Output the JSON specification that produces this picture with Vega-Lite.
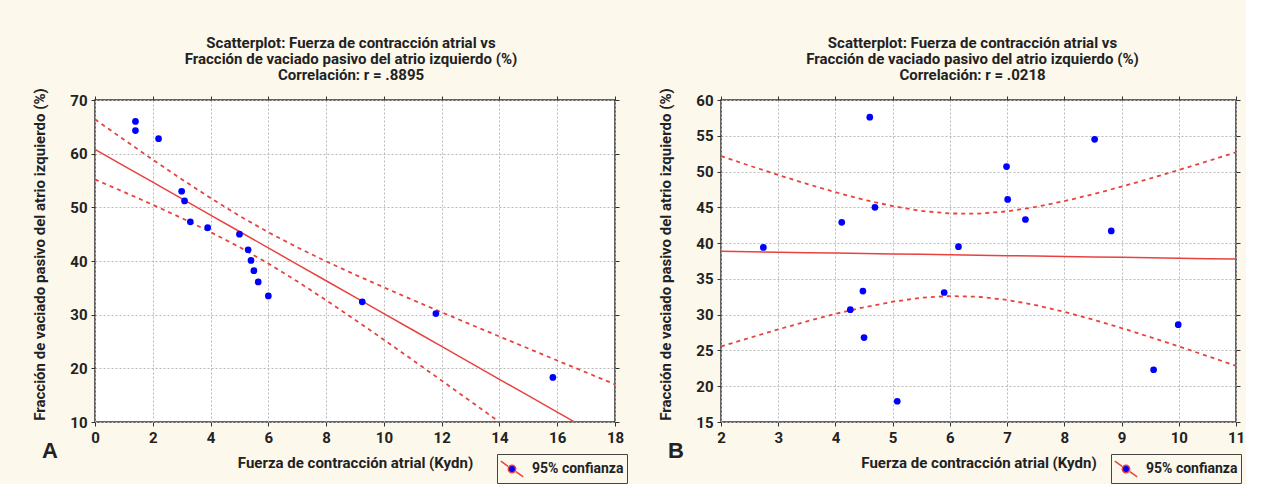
{
  "$schema": "https://vega.github.io/schema/vega-lite/v6.json",
  "background": "#fcf8ec",
  "padding": {"left": 32, "top": 34, "right": 0, "bottom": 0},
  "spacing": 30,
  "resolve": {"scale": {"color": "independent"}, "legend": {"color": "independent"}},
  "datasets": {
    "ptsA": [
      {"fuerza": 1.4, "fraccion": 66.0},
      {"fuerza": 1.4, "fraccion": 64.3},
      {"fuerza": 2.2, "fraccion": 62.8},
      {"fuerza": 3.0, "fraccion": 53.0},
      {"fuerza": 3.1, "fraccion": 51.2},
      {"fuerza": 3.3, "fraccion": 47.3},
      {"fuerza": 3.9, "fraccion": 46.2},
      {"fuerza": 5.0, "fraccion": 45.0},
      {"fuerza": 5.3, "fraccion": 42.1},
      {"fuerza": 5.4, "fraccion": 40.1},
      {"fuerza": 5.5, "fraccion": 38.2},
      {"fuerza": 5.65, "fraccion": 36.1},
      {"fuerza": 6.0, "fraccion": 33.5},
      {"fuerza": 9.25, "fraccion": 32.4},
      {"fuerza": 11.8, "fraccion": 30.2},
      {"fuerza": 15.85, "fraccion": 18.3}
    ],
    "fitA": [
      {"fuerza": 0, "ajuste": 60.8, "inf": 55.2, "sup": 66.4},
      {"fuerza": 1, "ajuste": 57.74, "inf": 52.86, "sup": 62.62},
      {"fuerza": 2, "ajuste": 54.68, "inf": 50.48, "sup": 58.88},
      {"fuerza": 3, "ajuste": 51.62, "inf": 48.0, "sup": 55.24},
      {"fuerza": 4, "ajuste": 48.56, "inf": 45.39, "sup": 51.73},
      {"fuerza": 5, "ajuste": 45.5, "inf": 42.59, "sup": 48.41},
      {"fuerza": 6, "ajuste": 42.44, "inf": 39.53, "sup": 45.35},
      {"fuerza": 7, "ajuste": 39.38, "inf": 36.21, "sup": 42.55},
      {"fuerza": 8, "ajuste": 36.32, "inf": 32.7, "sup": 39.94},
      {"fuerza": 9, "ajuste": 33.26, "inf": 29.06, "sup": 37.46},
      {"fuerza": 10, "ajuste": 30.2, "inf": 25.32, "sup": 35.08},
      {"fuerza": 11, "ajuste": 27.14, "inf": 21.54, "sup": 32.74},
      {"fuerza": 12, "ajuste": 24.08, "inf": 17.71, "sup": 30.45},
      {"fuerza": 13, "ajuste": 21.02, "inf": 13.86, "sup": 28.18},
      {"fuerza": 14, "ajuste": 17.96, "inf": 9.99, "sup": 25.93},
      {"fuerza": 15, "ajuste": 14.9, "inf": 6.11, "sup": 23.69},
      {"fuerza": 16, "ajuste": 11.84, "inf": 2.22, "sup": 21.46},
      {"fuerza": 17, "ajuste": 8.78, "inf": -1.68, "sup": 19.24},
      {"fuerza": 18, "ajuste": 5.72, "inf": -5.58, "sup": 17.02}
    ],
    "ptsB": [
      {"fuerza": 2.74, "fraccion": 39.4},
      {"fuerza": 4.11, "fraccion": 42.9},
      {"fuerza": 4.6, "fraccion": 57.6},
      {"fuerza": 4.69, "fraccion": 45.0},
      {"fuerza": 4.26, "fraccion": 30.7},
      {"fuerza": 4.48, "fraccion": 33.3},
      {"fuerza": 4.5, "fraccion": 26.8},
      {"fuerza": 5.08, "fraccion": 17.9},
      {"fuerza": 5.9, "fraccion": 33.1},
      {"fuerza": 6.15, "fraccion": 39.5},
      {"fuerza": 6.99, "fraccion": 50.7},
      {"fuerza": 7.01, "fraccion": 46.1},
      {"fuerza": 7.32, "fraccion": 43.3},
      {"fuerza": 8.53, "fraccion": 54.5},
      {"fuerza": 8.82, "fraccion": 41.7},
      {"fuerza": 9.56, "fraccion": 22.3},
      {"fuerza": 9.99, "fraccion": 28.6}
    ],
    "fitB": [
      {"fuerza": 2, "ajuste": 38.85, "inf": 25.55, "sup": 52.15},
      {"fuerza": 2.5, "ajuste": 38.79, "inf": 26.76, "sup": 50.82},
      {"fuerza": 3, "ajuste": 38.73, "inf": 27.94, "sup": 49.52},
      {"fuerza": 3.5, "ajuste": 38.67, "inf": 29.06, "sup": 48.28},
      {"fuerza": 4, "ajuste": 38.61, "inf": 30.11, "sup": 47.11},
      {"fuerza": 4.5, "ajuste": 38.55, "inf": 31.04, "sup": 46.06},
      {"fuerza": 5, "ajuste": 38.49, "inf": 31.81, "sup": 45.17},
      {"fuerza": 5.5, "ajuste": 38.43, "inf": 32.36, "sup": 44.5},
      {"fuerza": 6, "ajuste": 38.37, "inf": 32.6, "sup": 44.14},
      {"fuerza": 6.5, "ajuste": 38.31, "inf": 32.5, "sup": 44.12},
      {"fuerza": 7, "ajuste": 38.25, "inf": 32.06, "sup": 44.44},
      {"fuerza": 7.5, "ajuste": 38.19, "inf": 31.33, "sup": 45.05},
      {"fuerza": 8, "ajuste": 38.13, "inf": 30.39, "sup": 45.87},
      {"fuerza": 8.5, "ajuste": 38.07, "inf": 29.31, "sup": 46.83},
      {"fuerza": 9, "ajuste": 38.01, "inf": 28.13, "sup": 47.89},
      {"fuerza": 9.5, "ajuste": 37.95, "inf": 26.87, "sup": 49.03},
      {"fuerza": 10, "ajuste": 37.89, "inf": 25.56, "sup": 50.22},
      {"fuerza": 10.5, "ajuste": 37.83, "inf": 24.22, "sup": 51.44},
      {"fuerza": 11, "ajuste": 37.77, "inf": 22.85, "sup": 52.69}
    ]
  },
  "config": {
    "font": "Roboto",
    "view": {"stroke": "#333", "strokeWidth": 1.5, "fill": "white"},
    "axis": {
      "labelFont": "Roboto",
      "labelFontSize": 15,
      "labelFontWeight": "bold",
      "labelColor": "#222",
      "labelFlush": false,
      "labelOverlap": false,
      "titleFont": "Roboto",
      "titleFontSize": 15,
      "titleFontWeight": "bold",
      "titleColor": "#222",
      "domain": false,
      "tickColor": "#333",
      "tickSize": 4,
      "tickWidth": 1,
      "labelPadding": 4,
      "gridColor": "#b8b8b8",
      "gridDash": [2, 2],
      "gridWidth": 1
    },
    "legend": {
      "orient": "none",
      "title": null,
      "labelFont": "Roboto",
      "labelFontSize": 14,
      "labelFontWeight": "bold",
      "labelColor": "#222",
      "strokeColor": "#444",
      "fillColor": "#fcf8ec",
      "padding": 3,
      "symbolType": "M-1,-0.7L-0.35,-0.245M0.35,0.245L1,0.7M0.33,0A0.33,0.33,0,1,1,-0.33,0A0.33,0.33,0,1,1,0.33,0Z",
      "symbolSize": 500,
      "symbolStrokeColor": "#e8423f",
      "symbolStrokeWidth": 1.5,
      "symbolFillColor": "#0000ff",
      "labelOffset": 8
    },
    "title": {
      "font": "Roboto",
      "fontSize": 15,
      "fontWeight": "bold",
      "color": "#222"
    }
  },
  "hconcat": [
    {
      "title": {"text": "A", "orient": "bottom", "anchor": "start", "fontSize": 22, "font": "Liberation Sans", "offset": -43, "dx": 10},
      "vconcat": [
        {
          "width": 520,
          "height": 322,
          "title": {
            "text": ["Scatterplot: Fuerza de contracción atrial vs", "Fracción de vaciado pasivo del atrio izquierdo (%)", "Correlación: r = .8895"],
            "lineHeight": 16,
            "anchor": "middle",
            "frame": "group",
            "offset": 5,
            "dx": -4
          },
          "resolve": {"axis": {"x": "independent", "y": "independent"}},
          "layer": [
            {
              "data": {"name": "fitA"},
              "mark": {"type": "line", "color": "#e8423f", "strokeWidth": 1.5, "clip": true},
              "encoding": {
                "x": {"field": "fuerza", "type": "quantitative", "scale": {"domain": [0, 18], "nice": false, "zero": false},
                  "axis": {"values": [0, 2, 4, 6, 8, 10, 12, 14, 16, 18], "title": "Fuerza de contracción atrial (Kydn)", "titlePadding": 10}},
                "y": {"field": "ajuste", "type": "quantitative", "scale": {"domain": [10, 70], "nice": false, "zero": false},
                  "axis": {"values": [10, 20, 30, 40, 50, 60, 70], "title": "Fracción de vaciado pasivo del atrio izquierdo (%)", "titlePadding": 22, "titleY": 154}}
              }
            },
            {
              "data": {"name": "fitA"},
              "mark": {"type": "line", "color": "#e8423f", "strokeWidth": 1.8, "strokeDash": [4, 4], "clip": true},
              "encoding": {
                "x": {"field": "fuerza", "type": "quantitative", "axis": {"orient": "top", "values": [0, 2, 4, 6, 8, 10, 12, 14, 16, 18], "labels": false, "grid": false, "title": null}},
                "y": {"field": "inf", "type": "quantitative", "axis": {"orient": "right", "values": [10, 20, 30, 40, 50, 60, 70], "labels": false, "grid": false, "title": null}}
              }
            },
            {
              "data": {"name": "fitA"},
              "mark": {"type": "line", "color": "#e8423f", "strokeWidth": 1.8, "strokeDash": [4, 4], "clip": true},
              "encoding": {
                "x": {"field": "fuerza", "type": "quantitative", "axis": null},
                "y": {"field": "sup", "type": "quantitative", "axis": null}
              }
            },
            {
              "data": {"name": "ptsA"},
              "mark": {"type": "point", "filled": true, "size": 45, "opacity": 1},
              "encoding": {
                "x": {"field": "fuerza", "type": "quantitative", "axis": null},
                "y": {"field": "fraccion", "type": "quantitative", "axis": null},
                "color": {"datum": "95% confianza", "scale": {"range": ["#0000ff"]}, "legend": {"legendX": 402, "legendY": 354}}
              }
            }
          ]
        }
      ]
    },
    {
      "title": {"text": "B", "orient": "bottom", "anchor": "start", "fontSize": 22, "font": "Liberation Sans", "offset": -43, "dx": 10},
      "vconcat": [
        {
          "width": 515,
          "height": 322,
          "title": {
            "text": ["Scatterplot: Fuerza de contracción atrial vs", "Fracción de vaciado pasivo del atrio izquierdo (%)", "Correlación: r = .0218"],
            "lineHeight": 16,
            "anchor": "middle",
            "frame": "group",
            "offset": 5,
            "dx": -6
          },
          "resolve": {"axis": {"x": "independent", "y": "independent"}},
          "layer": [
            {
              "data": {"name": "fitB"},
              "mark": {"type": "line", "color": "#e8423f", "strokeWidth": 1.5, "clip": true},
              "encoding": {
                "x": {"field": "fuerza", "type": "quantitative", "scale": {"domain": [2, 11], "nice": false, "zero": false},
                  "axis": {"values": [2, 3, 4, 5, 6, 7, 8, 9, 10, 11], "title": "Fuerza de contracción atrial (Kydn)", "titlePadding": 10}},
                "y": {"field": "ajuste", "type": "quantitative", "scale": {"domain": [15, 60], "nice": false, "zero": false},
                  "axis": {"values": [15, 20, 25, 30, 35, 40, 45, 50, 55, 60], "title": "Fracción de vaciado pasivo del atrio izquierdo (%)", "titlePadding": 22, "titleY": 154}}
              }
            },
            {
              "data": {"name": "fitB"},
              "mark": {"type": "line", "color": "#e8423f", "strokeWidth": 1.8, "strokeDash": [4, 4], "clip": true},
              "encoding": {
                "x": {"field": "fuerza", "type": "quantitative", "axis": {"orient": "top", "values": [2, 3, 4, 5, 6, 7, 8, 9, 10, 11], "labels": false, "grid": false, "title": null}},
                "y": {"field": "inf", "type": "quantitative", "axis": {"orient": "right", "values": [15, 20, 25, 30, 35, 40, 45, 50, 55, 60], "labels": false, "grid": false, "title": null}}
              }
            },
            {
              "data": {"name": "fitB"},
              "mark": {"type": "line", "color": "#e8423f", "strokeWidth": 1.8, "strokeDash": [4, 4], "clip": true},
              "encoding": {
                "x": {"field": "fuerza", "type": "quantitative", "axis": null},
                "y": {"field": "sup", "type": "quantitative", "axis": null}
              }
            },
            {
              "data": {"name": "ptsB"},
              "mark": {"type": "point", "filled": true, "size": 45, "opacity": 1},
              "encoding": {
                "x": {"field": "fuerza", "type": "quantitative", "axis": null},
                "y": {"field": "fraccion", "type": "quantitative", "axis": null},
                "color": {"datum": "95% confianza", "scale": {"range": ["#0000ff"]}, "legend": {"legendX": 390, "legendY": 354}}
              }
            }
          ]
        }
      ]
    }
  ]
}
